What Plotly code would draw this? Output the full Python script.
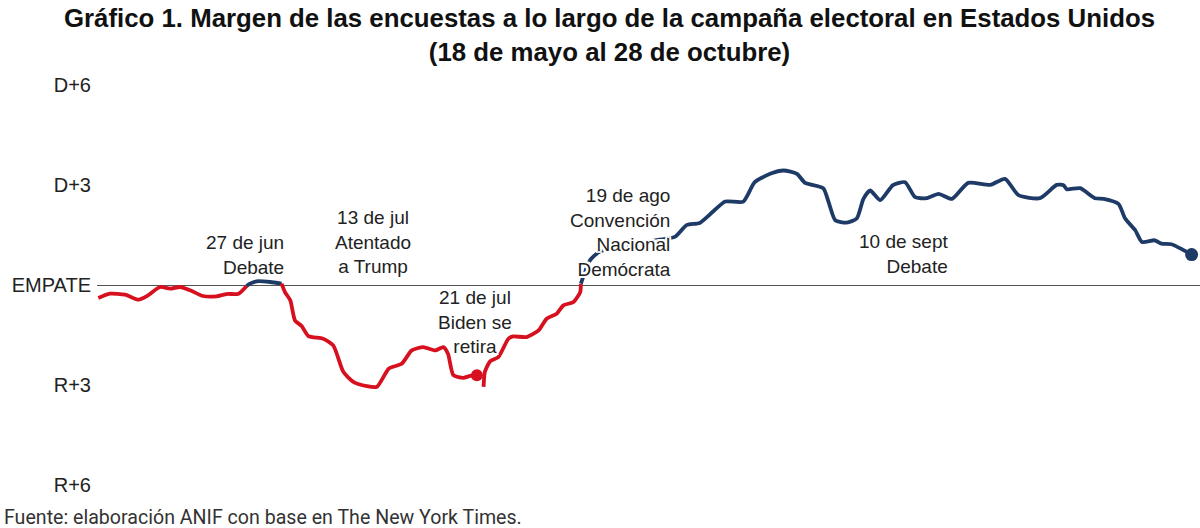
import plotly.graph_objects as go

# dias desde el 18 de mayo y margen (positivo = demócratas, negativo = republicanos)
dias_rojo1 = [0.2, 1.9, 4.2, 6.2, 7.6, 9.4, 10.9, 12.4, 13.9, 15.8, 17.8, 19.3, 21.1, 22.3]
margen_rojo1 = [-0.39, -0.26, -0.29, -0.44, -0.31, -0.06, -0.11, -0.06, -0.16, -0.33, -0.34, -0.27, -0.26, -0.03]

dias_azul1 = [22.3, 22.8, 23.8, 25.8, 27.5]
margen_azul1 = [-0.03, 0.04, 0.11, 0.09, 0.04]

dias_rojo2 = [27.5, 28.0, 28.8, 29.5, 30.5, 31.5, 33.7, 35.2, 36.7, 38.2, 40.2, 41.7, 43.5, 45.4,
              46.9, 48.6, 50.4, 51.6, 52.3, 53.1, 54.6, 55.6, 56.6]
margen_rojo2 = [0.04, -0.21, -0.46, -1.06, -1.23, -1.53, -1.61, -1.81, -2.6, -2.9, -3.03, -3.05, -2.5, -2.36,
                -1.96, -1.86, -1.96, -1.86, -2.06, -2.7, -2.78, -2.72, -2.7]

dias_rojo3 = [57.6, 57.8, 58.6, 59.8, 61.3, 62.0, 64.0, 65.8, 67.0, 68.5, 69.5, 71.0, 72.0, 72.1]
margen_rojo3 = [-3.05, -2.6, -2.28, -2.16, -1.61, -1.54, -1.56, -1.36, -1.01, -0.86, -0.61, -0.51, -0.21, 0.04]

dias_azul2 = [72.1, 73.5, 74.9, 77.9, 80.9, 83.6, 86.1, 87.9, 89.8, 91.8, 93.6, 96.3, 98.0, 100.3,
              102.3, 104.3, 105.5, 108.2, 109.0, 110.0, 111.7, 113.2, 114.2, 115.2, 116.7, 118.6,
              120.4, 121.9, 123.6, 125.4, 127.4, 129.8, 133.1, 135.3, 137.3, 140.5, 143.0, 144.0,
              144.5, 146.5, 148.7, 150.0, 152.2, 153.2, 154.7, 155.7, 157.6, 158.6, 160.1, 163.1]
margen_azul2 = [0.04, 0.75, 1.0, 1.15, 1.25, 1.35, 1.44, 1.8, 1.86, 2.2, 2.5, 2.5, 3.08, 3.33,
                3.43, 3.33, 3.06, 2.9, 2.49, 1.94, 1.87, 1.99, 2.58, 2.83, 2.54, 2.99,
                3.08, 2.63, 2.6, 2.73, 2.58, 3.06, 3.0, 3.18, 2.69, 2.6, 3.0, 2.99,
                2.87, 2.9, 2.6, 2.58, 2.43, 1.99, 1.64, 1.29, 1.34, 1.24, 1.22, 0.91]

ticks_y = [6, 3, 0, -3, -6]
etiquetas_y = ["D+6", "D+3", "EMPATE", "R+3", "R+6"]

rojo = "#D7101F"
azul = "#1E3A66"

fig = go.Figure()

segmentos = [
    (dias_rojo1, margen_rojo1, rojo),
    (dias_azul1, margen_azul1, azul),
    (dias_rojo2, margen_rojo2, rojo),
    (dias_rojo3, margen_rojo3, rojo),
    (dias_azul2, margen_azul2, azul),
]
for x, y, color in segmentos:
    fig.add_trace(go.Scatter(x=x, y=y, mode="lines",
                             line=dict(color=color, width=3.8, shape="spline", smoothing=0.6),
                             hoverinfo="skip"))

# puntos finales
fig.add_trace(go.Scatter(x=[dias_rojo2[-1]], y=[margen_rojo2[-1]], mode="markers",
                         marker=dict(color=rojo, size=12), cliponaxis=False))
fig.add_trace(go.Scatter(x=[dias_azul2[-1]], y=[margen_azul2[-1]], mode="markers",
                         marker=dict(color=azul, size=13), cliponaxis=False))

fuente = dict(family="Liberation Sans, Arial", size=19, color="#222")
halo = "2px 2px 0 white, -2px -2px 0 white, 2px -2px 0 white, -2px 2px 0 white, 0 2px 0 white, 0 -2px 0 white, 2px 0 0 white, -2px 0 0 white"

notas = [
    (28.2, 0.91, "27 de jun<br>Debate", "right"),
    (41.1, 1.30, "13 de jul<br>Atentado<br>a Trump", "center"),
    (56.3, -1.11, "21 de jul<br>Biden se<br>retira", "center"),
    (85.8, 1.56, "19 de ago<br>Convención<br>Nacional<br>Demócrata", "right"),
    (127.1, 0.93, "10 de sept<br>Debate", "right"),
]
for x, y, texto, anc in notas:
    fig.add_annotation(x=x, y=y, text=texto, showarrow=False, xanchor=anc, yanchor="middle",
                       align=anc, font=dict(fuente, shadow=halo))

# titulo
fig.add_annotation(x=0.5, y=1, xref="paper", yref="paper", xanchor="center", yanchor="middle",
                   yshift=33, xshift=-39, showarrow=False,
                   text="<b>Gráfico 1. Margen de las encuestas a lo largo de la campaña electoral en Estados Unidos<br>(18 de mayo al 28 de octubre)</b>",
                   font=dict(family="Liberation Sans, Arial", size=25.8, color="#111"))

fig.add_annotation(x=0, y=0, xref="paper", yref="paper", xanchor="left", yanchor="middle",
                   xshift=-95, yshift=-15, showarrow=False,
                   text="Fuente: elaboración ANIF con base en The New York Times.",
                   font=dict(family="Roboto, Liberation Sans", size=19.6, color="#333"))

fig.update_layout(
    width=1200, height=528,
    paper_bgcolor="white", plot_bgcolor="white",
    showlegend=False,
    margin=dict(l=97, r=0, t=68, b=26),
    xaxis=dict(range=[0, 164.35], visible=False),
    yaxis=dict(range=[-6.5, 6.5], tickvals=ticks_y, ticktext=etiquetas_y, showgrid=False,
               zeroline=True, zerolinecolor="#555", zerolinewidth=1, ticklabelstandoff=5,
               tickfont=dict(family="Liberation Sans, Arial", size=20, color="#222")),
)

fig.write_html("out.html", config={"displayModeBar": False},
               post_script="document.body.style.margin='0';")
